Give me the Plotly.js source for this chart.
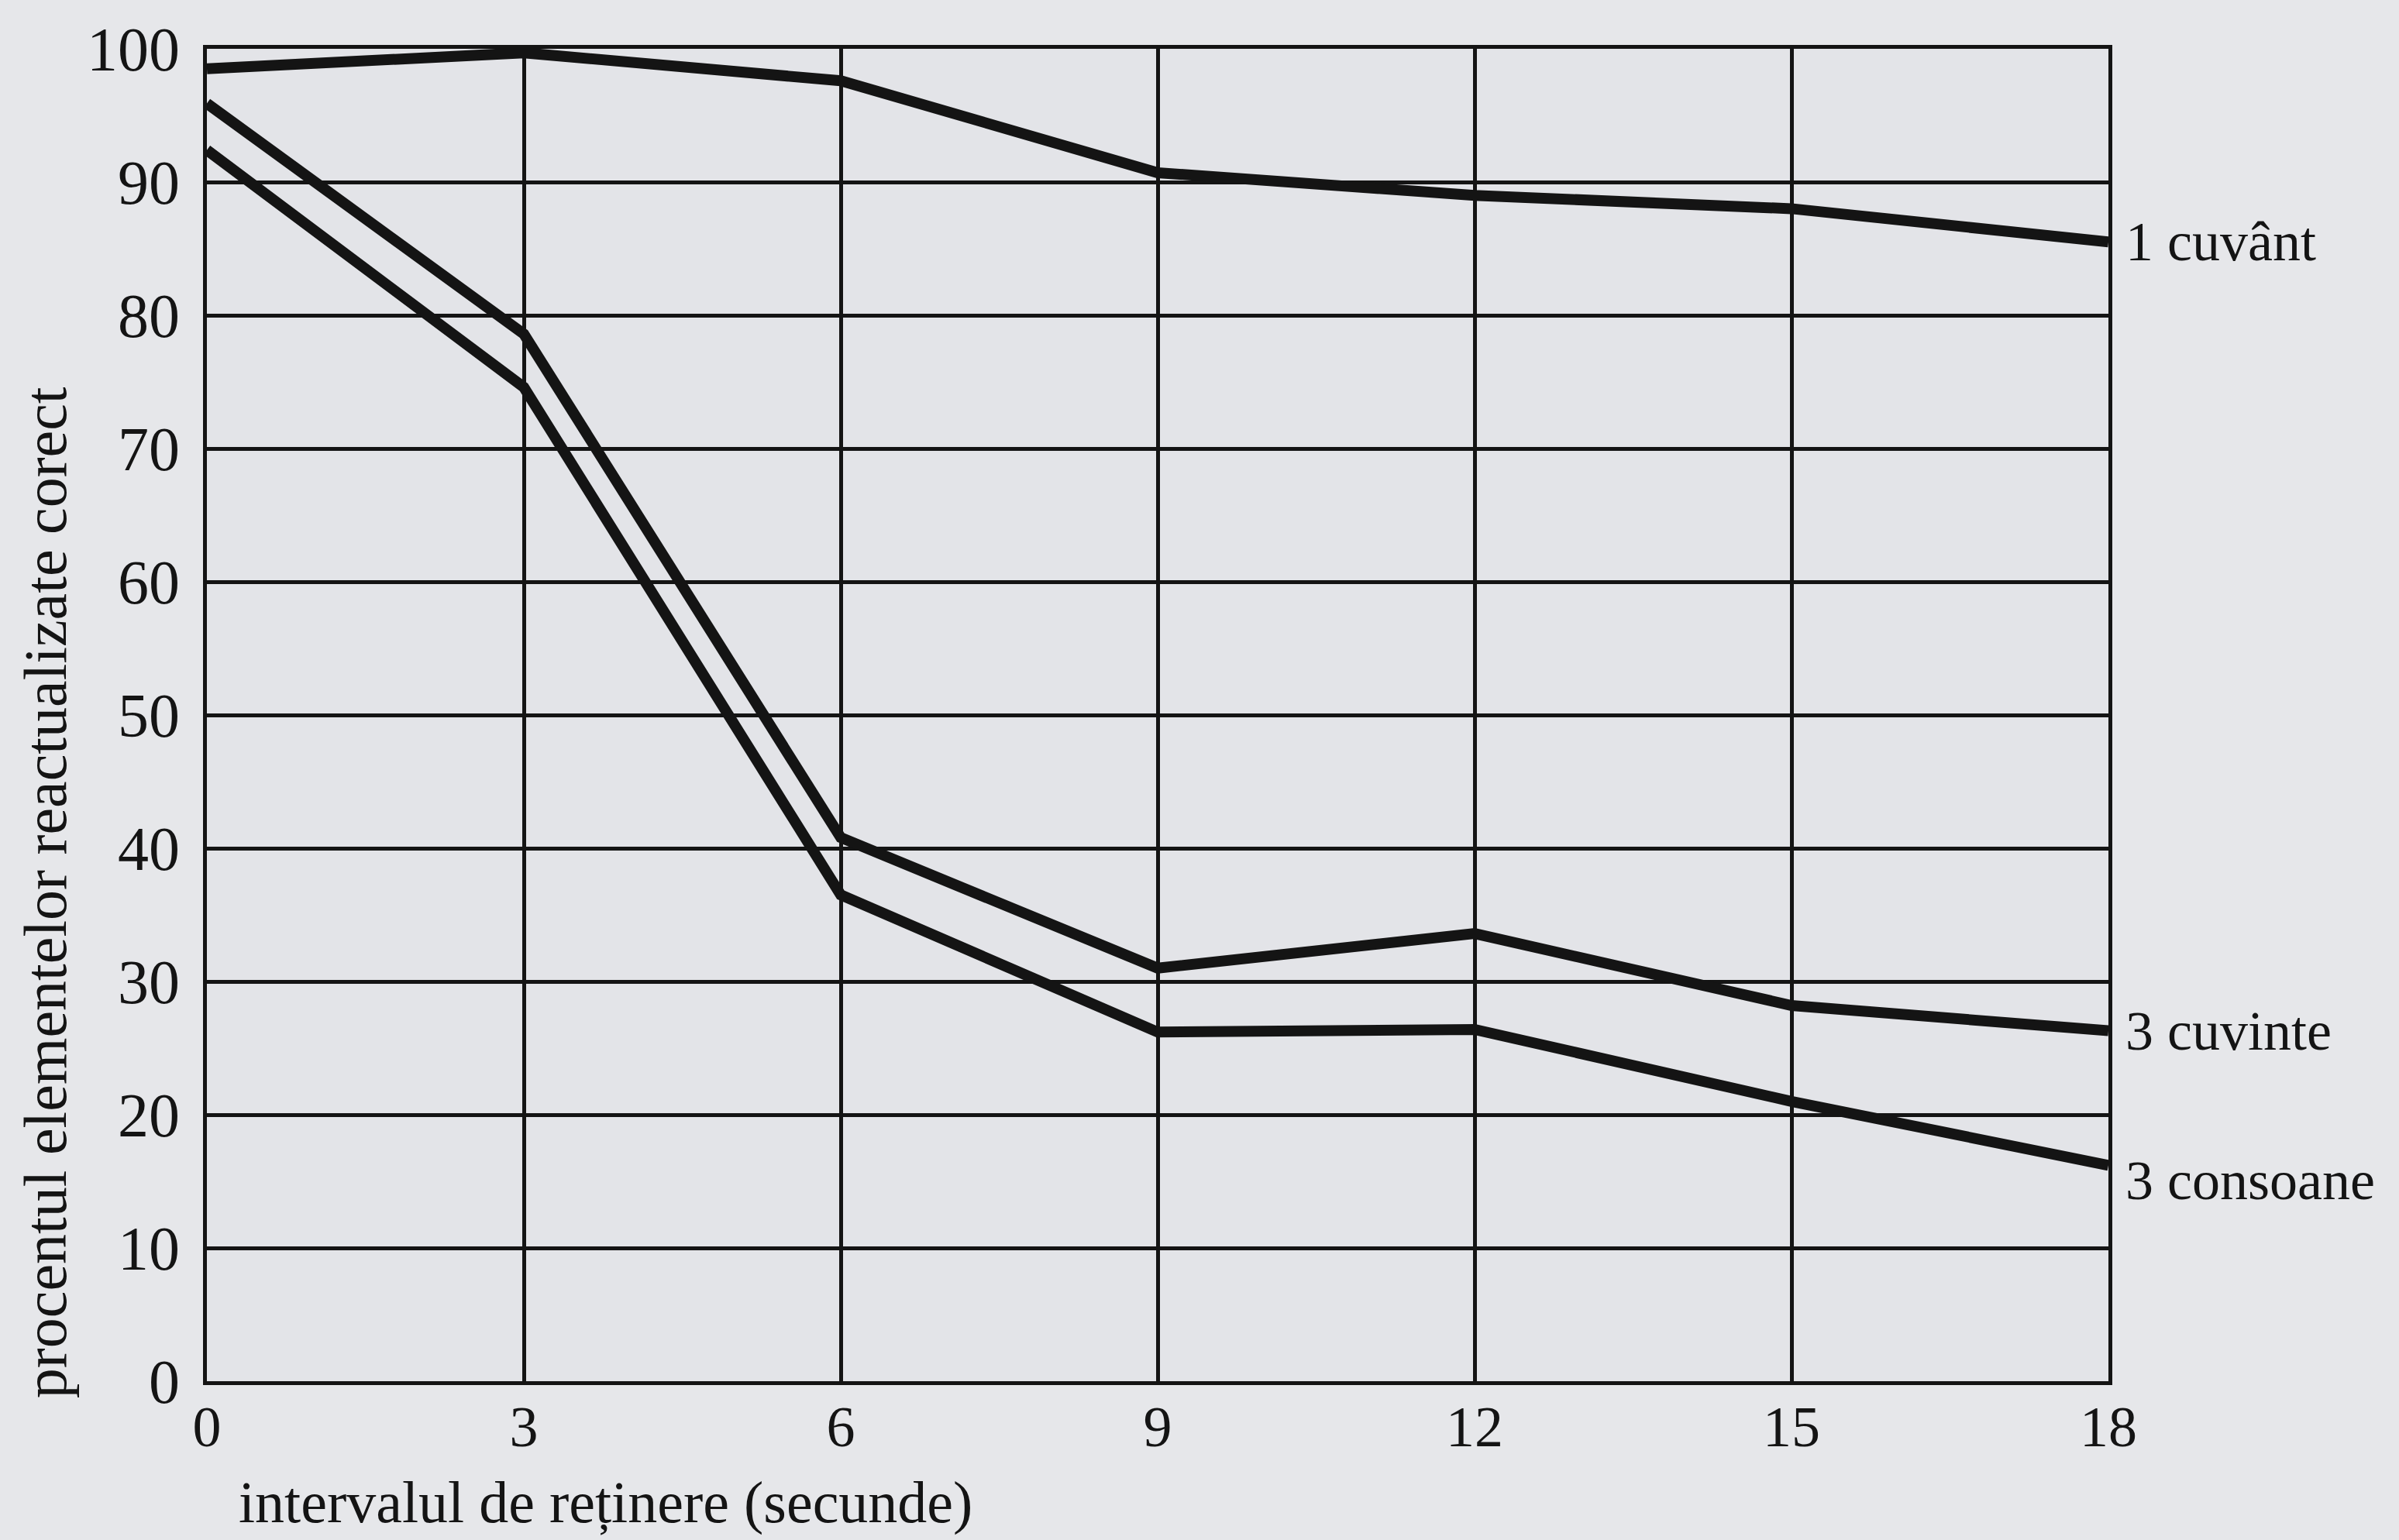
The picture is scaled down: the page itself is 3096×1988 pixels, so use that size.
<!DOCTYPE html>
<html>
<head>
<meta charset="utf-8">
<script src="https://cdn.plot.ly/plotly-3.0.1.min.js"></script>
<style>
  html, body { margin: 0; padding: 0; background: #e6e7ea; }
  #chart { width: 3096px; height: 1988px; }
</style>
</head>
<body>
<div id="chart"></div>
<script>
// Data
const intervals = [0, 3, 6, 9, 12, 15, 18];
const unCuvant = [98.5, 99.7, 97.6, 90.7, 89.0, 88.0, 85.5];
const treiCuvinte = [95.9, 78.6, 40.8, 31.0, 33.6, 28.2, 26.3];
const treiConsoane = [92.4, 74.6, 36.5, 26.2, 26.4, 21.0, 16.2];
const seriesNames = ["1 cuvânt", "3 cuvinte", "3 consoane"];
const xTicks = [0, 3, 6, 9, 12, 15, 18];
const yTicks = [0, 10, 20, 30, 40, 50, 60, 70, 80, 90, 100];
const xTitle = "intervalul de reținere (secunde)";
const yTitle = "procentul elementelor reactualizate corect";

const FONT = '"Liberation Serif", "DejaVu Serif", serif';
const INK = '#141414';
const allSeries = [unCuvant, treiCuvinte, treiConsoane];
const labelShift = [0, 0, -20];

const traces = allSeries.map((vals, i) => ({
  x: intervals,
  y: vals,
  name: seriesNames[i],
  type: 'scatter',
  mode: 'lines',
  line: { color: INK, width: 14 },
  showlegend: false,
  hoverinfo: 'x+y+name'
}));

const annotations = allSeries.map((vals, i) => ({
  x: intervals[intervals.length - 1],
  y: vals[vals.length - 1],
  xref: 'x', yref: 'y',
  text: seriesNames[i],
  showarrow: false,
  xanchor: 'left', yanchor: 'middle',
  xshift: 20, yshift: labelShift[i],
  font: { family: FONT, size: 72, color: INK }
}));

annotations.push({
  x: -0.085, y: 0.367, xref: 'paper', yref: 'paper',
  text: yTitle, textangle: -90, showarrow: false,
  xanchor: 'center', yanchor: 'middle',
  font: { family: FONT, size: 78, color: INK }
});
annotations.push({
  x: 0.016, y: -0.091, xref: 'paper', yref: 'paper',
  text: xTitle, showarrow: false,
  xanchor: 'left', yanchor: 'middle',
  font: { family: FONT, size: 76, color: INK }
});

const axisCommon = {
  showgrid: true,
  gridcolor: INK,
  gridwidth: 5,
  showline: true,
  linecolor: INK,
  linewidth: 5,
  mirror: true,
  zeroline: false,
  ticks: '',
  fixedrange: true
};

const layout = {
  width: 3096,
  height: 1988,
  margin: { l: 267, r: 375, t: 63, b: 205 },
  paper_bgcolor: '#e6e7ea',
  plot_bgcolor: '#e3e4e8',
  showlegend: false,
  xaxis: Object.assign({}, axisCommon, {
    range: [0, 18],
    tickmode: 'array',
    tickvals: xTicks,
    ticktext: xTicks.map(String),
    tickfont: { family: FONT, size: 74, color: INK },
    ticklabelstandoff: -10
  }),
  yaxis: Object.assign({}, axisCommon, {
    range: [0, 100],
    tickmode: 'array',
    tickvals: yTicks,
    ticktext: yTicks.map(String),
    tickfont: { family: FONT, size: 80, color: INK },
    ticklabelstandoff: 14
  }),
  annotations: annotations
};

Plotly.newPlot('chart', traces, layout, { staticPlot: true, displayModeBar: false });
</script>
</body>
</html>
